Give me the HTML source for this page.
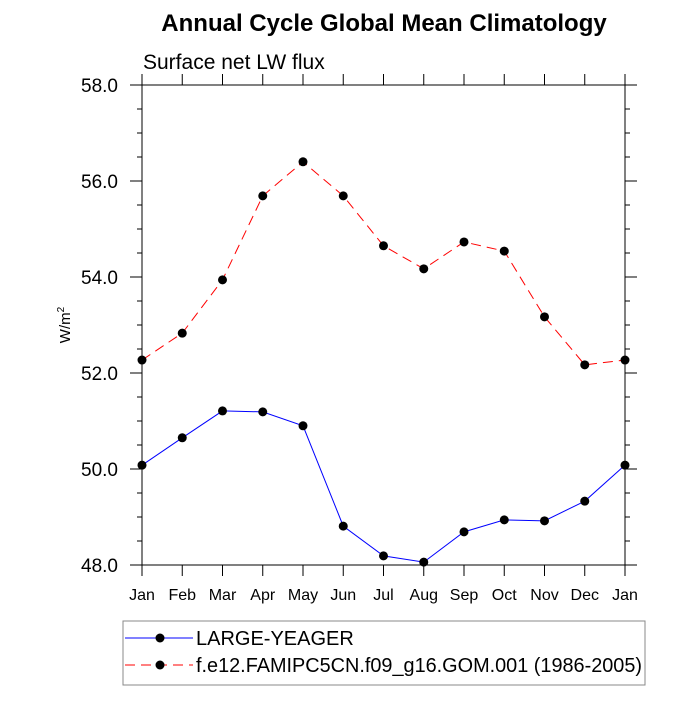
<!DOCTYPE html>
<html><head><meta charset="utf-8"><style>
html,body{margin:0;padding:0;background:#fff}
svg text{font-family:"Liberation Sans",Arial,sans-serif}
</style></head><body>
<svg id="chart" width="700" height="700" xmlns="http://www.w3.org/2000/svg">
<text x="384" y="31" text-anchor="middle" font-size="24" font-weight="bold">Annual Cycle Global Mean Climatology</text>
<text x="143" y="69" font-size="21">Surface net LW flux</text>
<text transform="translate(70,325) rotate(-90)" text-anchor="middle" font-size="15">W/m<tspan dy="-6" font-size="10">2</tspan></text>
<g id="axes"></g>
<g id="series"></g>
<g>
<rect x="123" y="621" width="522" height="64" fill="#fff" stroke="#888" stroke-width="1"/>
<g>
<line x1="125" y1="638" x2="193" y2="638" stroke="#0000ff" stroke-width="1"/>
<circle cx="160" cy="638" r="4.5" fill="#000"/>
<text x="196" y="645" font-size="20">LARGE-YEAGER</text></g>
<g>
<line x1="125" y1="665" x2="193" y2="665" stroke="#ff0000" stroke-width="1" stroke-dasharray="10,6"/>
<circle cx="160" cy="665" r="4.5" fill="#000"/>
<text x="196" y="672" font-size="20" textLength="446" lengthAdjust="spacingAndGlyphs">f.e12.FAMIPC5CN.f09_g16.GOM.001 (1986-2005)</text></g>
</g>
</svg>
<script>
const months = ["Jan","Feb","Mar","Apr","May","Jun","Jul","Aug","Sep","Oct","Nov","Dec","Jan"];
const yTicks = [48,50,52,54,56,58];
const largeYeager = [50.08,50.65,51.21,51.19,50.90,48.81,48.19,48.06,48.69,48.94,48.92,49.33,50.08];
const famip = [52.27,52.83,53.94,55.69,56.40,55.69,54.65,54.17,54.73,54.54,53.17,52.17,52.27];
const NS="http://www.w3.org/2000/svg";
const L=142,R=625,T=85,B=565,yMin=48,yMax=58;
const xs=i=>L+(R-L)*i/(months.length-1);
const ys=v=>B-(v-yMin)/(yMax-yMin)*(B-T);
function mk(tag,attrs,parent){const e=document.createElementNS(NS,tag);for(const k in attrs)e.setAttribute(k,attrs[k]);parent.appendChild(e);return e;}
const ax=document.getElementById('axes');
const frame=mk('rect',{x:L,y:T,width:R-L,height:B-T,fill:'none',stroke:'#000','stroke-width':1},ax);


months.forEach((m,i)=>{const x=xs(i);
mk('line',{x1:x,y1:B,x2:x,y2:B+11,stroke:'#000'},ax);
mk('line',{x1:x,y1:T,x2:x,y2:T-11,stroke:'#000'},ax);
const t=mk('text',{x:x,y:B+35,'text-anchor':'middle','font-size':16},ax);t.textContent=m;

});
for(let v=yMin;v<=yMax+1e-9;v+=0.5){const y=ys(v);const major=Math.abs(v-Math.round(v/2)*2)<1e-9;const len=major?12:5;
mk('line',{x1:L,y1:y,x2:L-len,y2:y,stroke:'#000'},ax);
mk('line',{x1:R,y1:y,x2:R+len,y2:y,stroke:'#000'},ax);}
yTicks.forEach(v=>{const t=mk('text',{x:L-24,y:ys(v)+7,'text-anchor':'end','font-size':19},ax);t.textContent=v.toFixed(1);

});
const sg=document.getElementById('series');
function draw(vals,color,dash,name){
const p=mk('polyline',{points:vals.map((v,i)=>xs(i)+','+ys(v)).join(' '),fill:'none',stroke:color,'stroke-width':1,'stroke-dasharray':dash},sg);


vals.forEach((v,i)=>{const c=mk('circle',{cx:xs(i),cy:ys(v),r:4.5,fill:'#000'},sg);

});}
draw(famip,'#ff0000','10,6','famip');
draw(largeYeager,'#0000ff','none','large-yeager');
</script>
</body></html>
